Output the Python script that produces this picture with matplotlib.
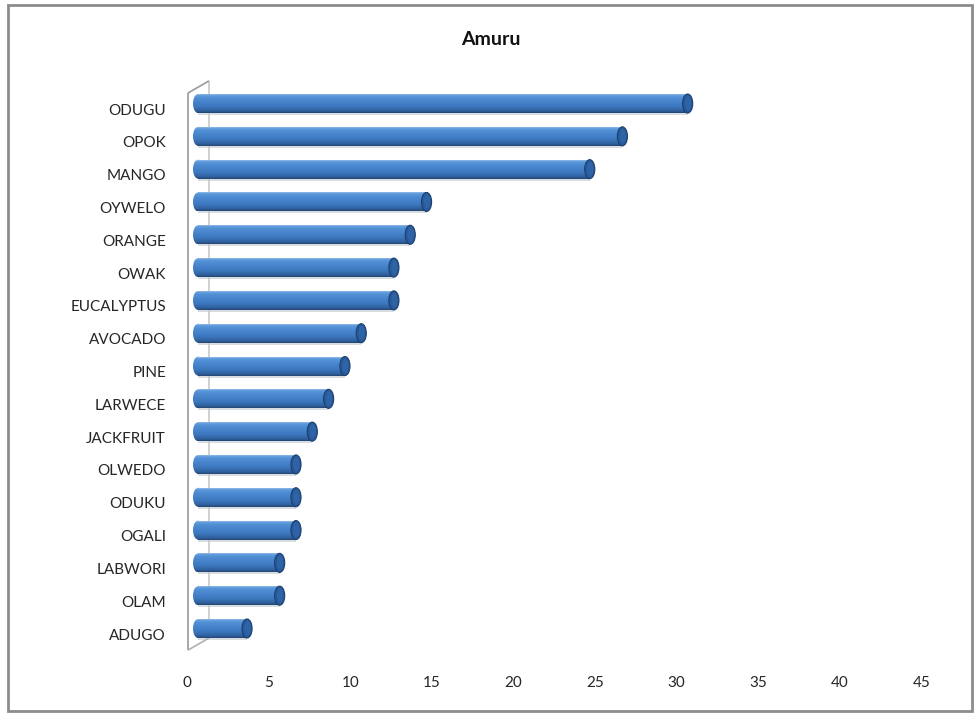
import numpy as np
import matplotlib.pyplot as plt
from matplotlib.patches import Ellipse, Rectangle
from matplotlib.transforms import ScaledTranslation
from matplotlib.colors import LinearSegmentedColormap

# tree species counted in Amuru
species = ["ODUGU", "OPOK", "MANGO", "OYWELO", "ORANGE", "OWAK", "EUCALYPTUS",
           "AVOCADO", "PINE", "LARWECE", "JACKFRUIT", "OLWEDO", "ODUKU", "OGALI",
           "LABWORI", "OLAM", "ADUGO"]
counts = [30, 26, 24, 14, 13, 12, 12, 10, 9, 8, 7, 6, 6, 6, 5, 5, 3]
xticks = [0, 5, 10, 15, 20, 25, 30, 35, 40, 45]

plt.rcParams['font.family'] = ['Lato', 'DejaVu Sans']

fig = plt.figure(figsize=(9.76, 7.13), dpi=100)
# one unit on x is about 16.3 px; leave one unit of room left of zero for the rounded ends
ax = fig.add_axes([0.1862, 0.0955, 0.7692, 0.7823])
ax.set_xlim(-1, 45)
ax.set_ylim(-0.5, len(species) - 0.5)
ax.axis('off')

# outer chart border
fig.add_artist(Rectangle((8 / 976, 2 / 713), 964 / 976, 706 / 713, transform=fig.transFigure,
                         fill=False, edgecolor='#8c8c8c', linewidth=2))

fig.text(0.503, 0.944, "Amuru", ha='center', va='center', fontsize=14, fontweight='bold',
         color='#111111')

# cylinder shading: dark underside, flat body, thin light rim on top
cyl = LinearSegmentedColormap.from_list("cyl", [
    (0.00, "#23446f"), (0.10, "#30609e"), (0.35, "#3e79c0"),
    (0.65, "#4a88d0"), (0.86, "#5996da"), (0.95, "#8db8e6"), (1.00, "#b5d0ec")])
grad = np.linspace(0, 1, 64).reshape(-1, 1)

bar_h = 0.58
cap_w = 0.62
ypos = np.arange(len(species))[::-1]

# back wall of the 3D frame
wall_kw = dict(clip_on=False, linewidth=1.2, solid_capstyle='butt')
ax.plot([-0.62, -0.62], [-0.66, 16.32], color='#9a9a9a', **wall_kw)
ax.plot([0.67, 0.67], [-0.29, 16.69], color='#c8c8c8', **wall_kw)
ax.plot([-0.62, 0.67], [16.32, 16.69], color='#9a9a9a', **wall_kw)
ax.plot([-0.62, 0.67], [-0.66, -0.29], color='#b0b0b0', **wall_kw)

bars = ax.barh(ypos, counts, height=bar_h, color='none', edgecolor='none')
for rect, y, v in zip(bars, ypos, counts):
    y0, y1 = y - bar_h / 2, y + bar_h / 2
    # soft shadow under the cylinder
    ax.add_patch(Rectangle((0, y0 - 0.06), v, 0.07, facecolor='#aab4c0', edgecolor='none',
                           alpha=0.45, zorder=1))
    im = ax.imshow(grad, cmap=cyl, aspect='auto', extent=[-cap_w / 2, v, y0, y1],
                   origin='lower', zorder=2, interpolation='bilinear')
    body = Rectangle((0, y0), v, bar_h, transform=ax.transData)
    im.set_clip_path(body)
    left = Ellipse((0, y), cap_w, bar_h, transform=ax.transData)
    im2 = ax.imshow(grad, cmap=cyl, aspect='auto', extent=[-cap_w / 2, cap_w / 2, y0, y1],
                    origin='lower', zorder=2, interpolation='bilinear')
    im2.set_clip_path(left)
    ax.add_patch(Ellipse((v, y), cap_w, bar_h, facecolor='#28599a', edgecolor='#1c406e',
                         linewidth=0.8, zorder=3))
    ax.add_patch(Ellipse((v + 0.03, y + 0.01), cap_w * 0.6, bar_h * 0.75,
                         facecolor='#2e64a6', edgecolor='none', zorder=3))

# category labels, aligned with the floor of the 3D frame
lab_off = ScaledTranslation(-32 / 100, -7 / 100, fig.dpi_scale_trans)
for y, name in zip(ypos, species):
    ax.text(0, y, name, ha='right', va='center', fontsize=11, color='#262626',
            transform=ax.transData + lab_off)

tick_off = ScaledTranslation(-11 / 100, -38 / 100, fig.dpi_scale_trans)
for t in xticks:
    ax.text(t, -0.5, str(t), ha='center', va='center', fontsize=11, color='#262626',
            transform=ax.transData + tick_off)

fig.savefig("out.png", dpi=100)
